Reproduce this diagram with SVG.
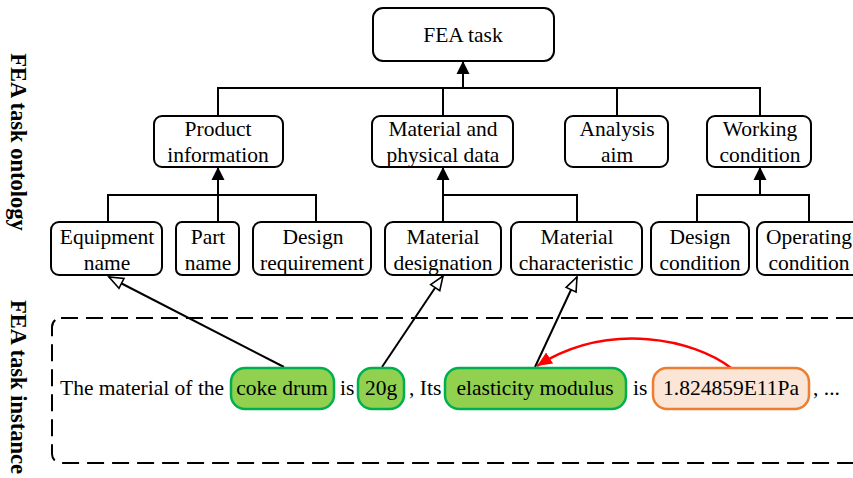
<svg xmlns="http://www.w3.org/2000/svg" width="853" height="478" viewBox="0 0 853 478">
  <style>
    .box { fill: #ffffff; stroke: #000000; stroke-width: 2; }
    .lbl { font-family: "Liberation Serif", "Times New Roman", serif; font-size: 21.5px; fill: #000000; text-anchor: middle; }
    .txt { font-family: "Liberation Serif", "Times New Roman", serif; font-size: 21.5px; fill: #000000; }
    .side { font-family: "Liberation Serif", "Times New Roman", serif; font-size: 22.5px; font-weight: bold; fill: #000000; text-anchor: middle; }
    .link { fill: none; stroke: #000000; stroke-width: 2; }
    .inst { fill: none; stroke: #000000; stroke-width: 2; }
    .ent { fill: #92D050; stroke: #00B050; stroke-width: 2.5; }
    .val { fill: #FBE5D6; stroke: #ED7D31; stroke-width: 2.5; }
  </style>
  <defs>
    <marker id="solid" markerUnits="userSpaceOnUse" markerWidth="14" markerHeight="14" viewBox="0 0 14 14" refX="13" refY="7" orient="auto">
      <path d="M0,0.5 L13,7 L0,13.5 Z" fill="#000000"/>
    </marker>
    <marker id="hollow" markerUnits="userSpaceOnUse" markerWidth="18" markerHeight="16" viewBox="0 0 18 16" refX="16" refY="8" orient="auto">
      <path d="M2,2.5 L16,8 L2,13.5 Z" fill="#ffffff" stroke="#000000" stroke-width="1.6"/>
    </marker>
    <marker id="red" markerUnits="userSpaceOnUse" markerWidth="16" markerHeight="14" viewBox="0 0 16 14" refX="15" refY="7" orient="auto">
      <path d="M0,0.5 L15,7 L0,13.5 Z" fill="#FF0000"/>
    </marker>
  </defs>

  <!-- side captions -->
  <text class="side" transform="translate(11,142) rotate(90)">FEA task ontology</text>
  <text class="side" transform="translate(11,387) rotate(90)">FEA task instance</text>

  <!-- instance frame (runs past the right edge) -->
  <rect x="52" y="318" width="812" height="145" rx="9" fill="none" stroke="#000000" stroke-width="2" stroke-dasharray="17,8"/>

  <!-- ontology tree connectors -->
  <g id="connectors">
    <path class="link" d="M218,116 V88 H760 V116 M443,88 V116 M617,88 V116"/>
    <line class="link" x1="463" y1="88" x2="463" y2="61" marker-end="url(#solid)"/>
    <path class="link" d="M108,222 V195 H316 V222"/>
    <line class="link" x1="218" y1="222" x2="218" y2="167" marker-end="url(#solid)"/>
    <path class="link" d="M443,195 H577 V222"/>
    <line class="link" x1="443" y1="222" x2="443" y2="167" marker-end="url(#solid)"/>
    <path class="link" d="M697,222 V195 H809 V222"/>
    <line class="link" x1="760" y1="195" x2="760" y2="167" marker-end="url(#solid)"/>
    <!-- instance-to-concept links -->
    <line class="inst" x1="284" y1="367" x2="109" y2="277" marker-end="url(#hollow)"/>
    <line class="inst" x1="382" y1="367" x2="443" y2="276" marker-end="url(#hollow)"/>
    <line class="inst" x1="535" y1="367" x2="577" y2="277" marker-end="url(#hollow)"/>
    <path d="M731,368 C695,340 610,320 537,366" fill="none" stroke="#FF0000" stroke-width="2.5" marker-end="url(#red)"/>
  </g>

  <!-- ontology nodes -->
  <g id="fea-task">
    <rect class="box" x="373" y="8" width="181" height="53" rx="10"/>
    <text class="lbl" x="463" y="42">FEA task</text>
  </g>
  <g id="product-information">
    <rect class="box" x="154" y="116" width="129" height="51" rx="8"/>
    <text class="lbl" x="218" y="136">Product</text>
    <text class="lbl" x="218" y="162">information</text>
  </g>
  <g id="material-physical-data">
    <rect class="box" x="372" y="116" width="141" height="51" rx="8"/>
    <text class="lbl" x="443" y="136">Material and</text>
    <text class="lbl" x="443" y="162">physical data</text>
  </g>
  <g id="analysis-aim">
    <rect class="box" x="565" y="116" width="103" height="51" rx="8"/>
    <text class="lbl" x="617" y="136">Analysis</text>
    <text class="lbl" x="617" y="162">aim</text>
  </g>
  <g id="working-condition">
    <rect class="box" x="707" y="116" width="104" height="51" rx="8"/>
    <text class="lbl" x="760" y="136">Working</text>
    <text class="lbl" x="760" y="162">condition</text>
  </g>
  <g id="equipment-name">
    <rect class="box" x="51" y="222" width="111" height="53" rx="8"/>
    <text class="lbl" x="107" y="244">Equipment</text>
    <text class="lbl" x="107" y="270">name</text>
  </g>
  <g id="part-name">
    <rect class="box" x="176" y="222" width="63" height="53" rx="6"/>
    <text class="lbl" x="208" y="244">Part</text>
    <text class="lbl" x="208" y="270">name</text>
  </g>
  <g id="design-requirement">
    <rect class="box" x="253" y="222" width="118" height="53" rx="8"/>
    <text class="lbl" x="313" y="244">Design</text>
    <text class="lbl" x="312" y="270">requirement</text>
  </g>
  <g id="material-designation">
    <rect class="box" x="385" y="222" width="116" height="53" rx="8"/>
    <text class="lbl" x="443" y="244">Material</text>
    <text class="lbl" x="443" y="270">designation</text>
  </g>
  <g id="material-characteristic">
    <rect class="box" x="511" y="222" width="131" height="53" rx="8"/>
    <text class="lbl" x="577" y="244">Material</text>
    <text class="lbl" x="576" y="270">characteristic</text>
  </g>
  <g id="design-condition">
    <rect class="box" x="651" y="222" width="98" height="53" rx="8"/>
    <text class="lbl" x="700" y="244">Design</text>
    <text class="lbl" x="700" y="270">condition</text>
  </g>
  <g id="operating-condition">
    <rect class="box" x="757" y="222" width="104" height="53" rx="8"/>
    <text class="lbl" x="809" y="244">Operating</text>
    <text class="lbl" x="809" y="270">condition</text>
  </g>

  <!-- annotated sentence -->
  <g id="sentence">
    <text class="txt" x="60" y="395">The material of the</text>
    <text class="txt" x="340" y="395">is</text>
    <text class="txt" x="409" y="395">, Its</text>
    <text class="txt" x="633" y="395">is</text>
    <text class="txt" x="813" y="395">, ...</text>
  </g>
  <g id="coke-drum">
    <rect class="ent" x="231" y="368" width="103" height="41" rx="14"/>
    <text class="lbl" x="282" y="395">coke drum</text>
  </g>
  <g id="steel-20g">
    <rect class="ent" x="358" y="368" width="46" height="41" rx="14"/>
    <text class="lbl" x="381" y="395">20g</text>
  </g>
  <g id="elasticity-modulus">
    <rect class="ent" x="445" y="368" width="181" height="41" rx="14"/>
    <text class="lbl" x="535" y="395">elasticity modulus</text>
  </g>
  <g id="modulus-value">
    <rect class="val" x="653" y="368" width="156" height="41" rx="14"/>
    <text class="lbl" x="731" y="395">1.824859E11Pa</text>
  </g>
</svg>
